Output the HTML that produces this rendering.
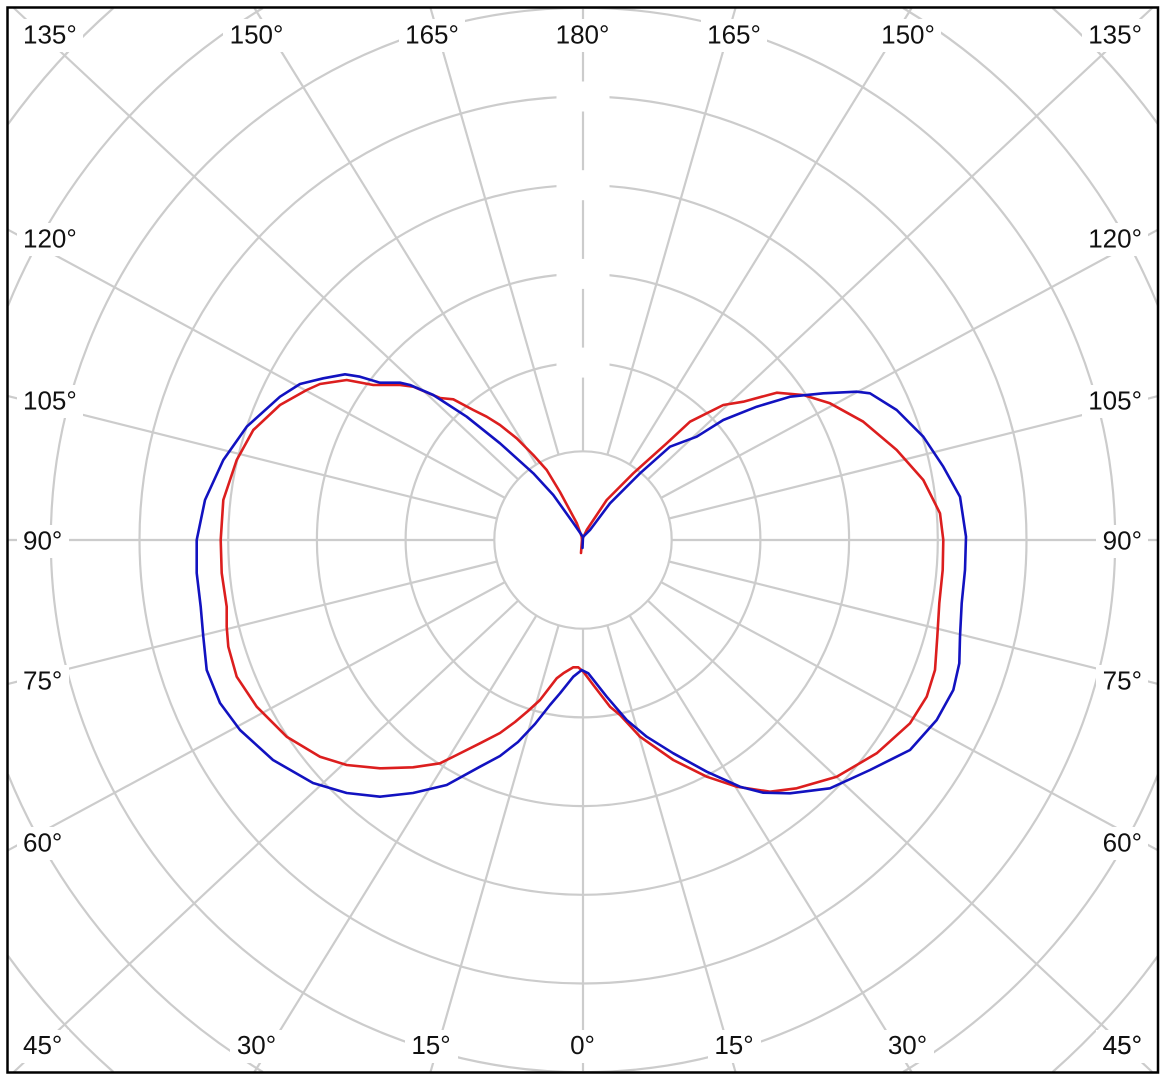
<!DOCTYPE html>
<html>
<head>
<meta charset="utf-8">
<style>
  html,body{margin:0;padding:0;background:#fff;width:1166px;height:1080px;overflow:hidden;}
  svg{display:block;}
  text{font-family:"Liberation Sans",sans-serif;font-size:26px;fill:#111;}
</style>
</head>
<body>
<svg width="1166" height="1080" viewBox="0 0 1166 1080" xmlns="http://www.w3.org/2000/svg">
  <rect x="0" y="0" width="1166" height="1080" fill="#fff"/>
  <g fill="none" stroke="#cccccc" stroke-width="2.2">
    <circle cx="583" cy="540" r="88.7"/>
    <circle cx="583" cy="540" r="177.4"/>
    <circle cx="583" cy="540" r="266.1"/>
    <circle cx="583" cy="540" r="354.8"/>
    <circle cx="583" cy="540" r="443.5"/>
    <circle cx="583" cy="540" r="532.2"/>
    <path d="M8,305.7 A620.9,620.9 0 0 1 262.9,8 M903.1,8 A620.9,620.9 0 0 1 1158,305.7 M1158,774.3 A620.9,620.9 0 0 1 903.1,1072 M262.9,1072 A620.9,620.9 0 0 1 8,774.3"/>
    <path d="M8,124.2 A709.6,709.6 0 0 1 113.4,8 M1052.6,8 A709.6,709.6 0 0 1 1158,124.2 M1158,955.8 A709.6,709.6 0 0 1 1052.6,1072 M113.4,1072 A709.6,709.6 0 0 1 8,955.8"/>
    <line x1="583" y1="628.7" x2="583" y2="1072"/>
    <line x1="558.6" y1="625.3" x2="430.5" y2="1072"/>
    <line x1="607.4" y1="625.3" x2="735.5" y2="1072"/>
    <line x1="536.4" y1="615.5" x2="254.4" y2="1072"/>
    <line x1="629.6" y1="615.5" x2="911.6" y2="1072"/>
    <line x1="518.2" y1="600.6" x2="13.8" y2="1072"/>
    <line x1="647.8" y1="600.6" x2="1152.2" y2="1072"/>
    <line x1="504.9" y1="582.1" x2="8" y2="850.3"/>
    <line x1="661.1" y1="582.1" x2="1158" y2="850.3"/>
    <line x1="497" y1="561.5" x2="8" y2="683.9"/>
    <line x1="669" y1="561.5" x2="1158" y2="683.9"/>
    <line x1="494.3" y1="540" x2="8" y2="540"/>
    <line x1="671.7" y1="540" x2="1158" y2="540"/>
    <line x1="497" y1="518.5" x2="8" y2="396.1"/>
    <line x1="669" y1="518.5" x2="1158" y2="396.1"/>
    <line x1="504.9" y1="497.9" x2="8" y2="229.7"/>
    <line x1="661.1" y1="497.9" x2="1158" y2="229.7"/>
    <line x1="518.2" y1="479.4" x2="13.8" y2="8"/>
    <line x1="647.8" y1="479.4" x2="1152.2" y2="8"/>
    <line x1="536.4" y1="464.5" x2="254.4" y2="8"/>
    <line x1="629.6" y1="464.5" x2="911.6" y2="8"/>
    <line x1="558.6" y1="454.7" x2="430.5" y2="8"/>
    <line x1="607.4" y1="454.7" x2="735.5" y2="8"/>
    <line x1="583" y1="451.3" x2="583" y2="8"/>
  </g>
  <g fill="#fff">
    <rect x="556.5" y="347.6" width="53" height="30"/>
    <rect x="556.5" y="258.9" width="53" height="30"/>
    <rect x="556.5" y="170.2" width="53" height="30"/>
    <rect x="556.5" y="81.5" width="53" height="30"/>
  </g>
  <g fill="#fff">
    <rect x="17" y="19" width="66" height="33"/>
    <rect x="223" y="19" width="67" height="33"/>
    <rect x="399" y="19" width="66" height="33"/>
    <rect x="550" y="19" width="66" height="33"/>
    <rect x="701" y="19" width="66" height="33"/>
    <rect x="875" y="19" width="66" height="33"/>
    <rect x="1082" y="19" width="66" height="33"/>

    <rect x="17" y="223" width="66" height="33"/>
    <rect x="17" y="385" width="66" height="33"/>
    <rect x="17" y="525" width="52" height="33"/>
    <rect x="17" y="665" width="52" height="33"/>
    <rect x="17" y="827" width="52" height="33"/>

    <rect x="1082" y="223" width="66" height="33"/>
    <rect x="1082" y="385" width="66" height="33"/>
    <rect x="1096" y="525" width="52" height="33"/>
    <rect x="1096" y="665" width="52" height="33"/>
    <rect x="1096" y="827" width="52" height="33"/>

    <rect x="17" y="1030" width="52" height="33"/>
    <rect x="230" y="1030" width="53" height="33"/>
    <rect x="405" y="1030" width="53" height="33"/>
    <rect x="563" y="1030" width="39" height="33"/>
    <rect x="708" y="1030" width="53" height="33"/>
    <rect x="881" y="1030" width="53" height="33"/>
    <rect x="1096" y="1030" width="52" height="33"/>
  </g>
  <text x="23" y="43.5">135°</text>
  <text x="256.5" y="43.5" text-anchor="middle">150°</text>
  <text x="432" y="43.5" text-anchor="middle">165°</text>
  <text x="582.5" y="43.5" text-anchor="middle">180°</text>
  <text x="734" y="43.5" text-anchor="middle">165°</text>
  <text x="908" y="43.5" text-anchor="middle">150°</text>
  <text x="1142" y="43.5" text-anchor="end">135°</text>

  <text x="23" y="247.5">120°</text>
  <text x="23" y="409.5">105°</text>
  <text x="23" y="549.5">90°</text>
  <text x="23" y="689.5">75°</text>
  <text x="23" y="851.5">60°</text>
  <text x="23" y="1054">45°</text>

  <text x="1142" y="247.5" text-anchor="end">120°</text>
  <text x="1142" y="409.5" text-anchor="end">105°</text>
  <text x="1142" y="549.5" text-anchor="end">90°</text>
  <text x="1142" y="689.5" text-anchor="end">75°</text>
  <text x="1142" y="851.5" text-anchor="end">60°</text>
  <text x="1142" y="1054" text-anchor="end">45°</text>

  <text x="256.5" y="1054" text-anchor="middle">30°</text>
  <text x="431" y="1054" text-anchor="middle">15°</text>
  <text x="582.5" y="1054" text-anchor="middle">0°</text>
  <text x="734" y="1054" text-anchor="middle">15°</text>
  <text x="907.5" y="1054" text-anchor="middle">30°</text>
  <text x="1142" y="1054" text-anchor="end">45°</text>

  <path fill="none" stroke="#dc1e1e" stroke-width="2.6" stroke-linejoin="round" stroke-linecap="round"
    d="M581,553 L582,540 L581.7,536.7 L576.7,523 L560,492 L546.7,470 L533.3,455 L516.7,438.3 L500,425 L486.7,416.7 L473.3,410 L453.3,399.3 L440,398 L413.3,386.7 L400,385 L373.3,385 L346.7,380 L320,384 L306.7,390 L280,405 L253.3,430 L236.7,460 L223.3,500 L220.7,540 L221.7,573 L226.7,606.7 L226.7,626.7 L228.3,646.7 L236.7,676.7 L256.7,706.7 L286.7,736.7 L320,756.7 L346.7,765 L380,768.3 L413,767.3 L440,763.3 L456.7,755 L480,743.3 L500,733 L515,722 L528,711 L540,700 L556.7,678.3 L563.3,673.3 L573.3,667.3 L578.3,667.3 L583.3,671.7 L593.3,685 L610,706.7 L620,715 L640,736.7 L673.3,760 L706.7,776.7 L736.7,786.7 L770,791.7 L796.7,788.3 L836.7,776.7 L876.7,753.3 L910,723.3 L926.7,696.7 L935,670 L937.3,636.7 L939.3,603.3 L942.7,570 L943.3,540 L940,513.3 L923.3,480 L896.7,450 L863.3,421.7 L830,403.3 L803.3,395 L776.7,392.7 L743.3,401.7 L723.3,405 L690,421.7 L666.7,443.3 L633.3,473.3 L606.7,500 L586.7,530 L582,540"/>
  <path fill="none" stroke="#1212c0" stroke-width="2.6" stroke-linejoin="round" stroke-linecap="round"
    d="M582.5,548 L583,537 L573.3,523 L553.3,495 L533.3,473.3 L500,443.3 L466.7,416.7 L433.3,395 L410,385 L400,382.7 L380,382.7 L360,376.7 L345,374.3 L323.3,378.3 L300,384 L280,396.7 L246.7,426.7 L223.3,460 L205,500 L196.7,540 L196.7,573 L200.7,606.7 L203.3,636.7 L206.7,670 L220,703 L240,730 L273,760 L313,783 L346.7,793 L380,796.7 L413,793 L446.7,785 L480,766.7 L500,756 L518,742 L535,724 L550,705 L560,693.3 L573.3,676.7 L581.7,670 L588.3,673.3 L606.7,696.7 L626.7,720 L646.7,736.7 L673.3,753.3 L706.7,771.7 L740,786.7 L763.3,792.7 L790,793.3 L830,788.3 L870,770 L910,750 L936.7,720 L953.3,690 L959.3,663.3 L960,636.7 L961.7,603.3 L965,570 L966,536.7 L960,496.7 L943.3,466.7 L923.3,436.7 L896.7,410 L870,393.3 L856.7,391.7 L823.3,393.3 L790,396.7 L756.7,406.7 L723.3,420 L696.7,436.7 L670,446.7 L640,473.3 L610,503.3 L590,530 L583,537"/>
  <rect x="7.5" y="7.5" width="1150.5" height="1065" fill="none" stroke="#000" stroke-width="2.5"/>
</svg>
</body>
</html>
